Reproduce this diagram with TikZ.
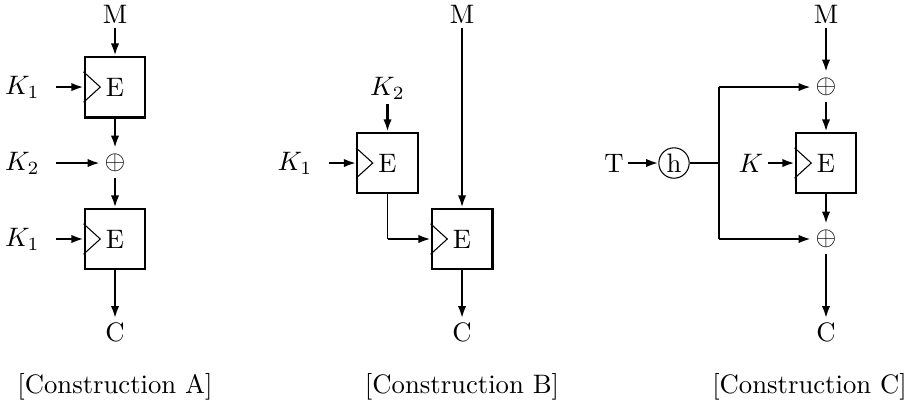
\documentclass[tikz,border=0pt]{standalone}
\usepackage{tikz}
\usetikzlibrary{arrows.meta,positioning,calc}
\newcommand{\clockmark}[1]{\draw[thin] ([yshift=2mm]#1.west) -- ++(2.2mm,-2mm) -- ++(-2.2mm,-2mm);}

\begin{document}
\begin{tikzpicture}[
  box/.style={draw,thick,minimum size=8mm,inner sep=0pt},
  lbl/.style={inner sep=1.5pt},
  keyin/.style={inner ysep=1.5pt,inner xsep=6pt},
  xsum/.style={minimum size=11pt,inner sep=0pt},
  hash/.style={draw,circle,minimum size=4mm,inner sep=0pt},
  arr/.style={-{Latex[length=1.6mm,width=1.1mm]},thick},
  link/.style={thin}
]
\useasboundingbox (-1.514,-3.278) rectangle (10.425,2.146);
\node[lbl] (mA) at (0,1.96) {M};
\node[box] (eA1) at (0,1) {E};
\node[keyin] (k1A) at (-1.22,1) {$K_1$};
\node[xsum] (xA) at (0,0) {$\oplus$};
\node[keyin] (k2A) at (-1.22,0) {$K_2$};
\node[box] (eA2) at (0,-1) {E};
\node[keyin] (k3A) at (-1.22,-1) {$K_1$};
\node[lbl] (cA) at (0,-2.23) {C};
\node (capA) at (0,-2.95) {[Construction A]};
\clockmark{eA1}
\clockmark{eA2}
\draw[arr] (mA)--(eA1);
\draw[arr] (k1A)--(eA1);
\draw[arr] (eA1)--(xA);
\draw[arr] (k2A)--(xA);
\draw[arr] (xA)--(eA2);
\draw[arr] (k3A)--(eA2);
\draw[arr] (eA2)--(cA);
\node[box] (eB1) at (3.587,0) {E};
\node[lbl] (k2B) at (3.587,0.98) {$K_2$};
\node[keyin] (k1B) at (2.369,0) {$K_1$};
\node[box] (eB2) at (4.568,-1) {E};
\node[lbl] (mB) at (4.568,1.96) {M};
\node[lbl] (cB) at (4.568,-2.23) {C};
\node (capB) at (4.568,-2.95) {[Construction B]};
\clockmark{eB1}
\clockmark{eB2}
\coordinate (bendB) at (eB1 |- eB2);
\draw[arr] (k2B)--(eB1);
\draw[arr] (k1B)--(eB1);
\draw[link] (eB1)--(bendB);
\draw[arr] (bendB)--(eB2);
\draw[arr] (mB)--(eB2);
\draw[arr] (eB2)--(cB);
\node[lbl] (mC) at (9.359,1.96) {M};
\node[xsum] (xC1) at (9.359,1) {$\oplus$};
\node[box] (eC) at (9.359,0) {E};
\node[xsum] (xC2) at (9.359,-1) {$\oplus$};
\node[lbl] (cC) at (9.359,-2.23) {C};
\node[lbl] (kC) at (8.372,0) {$K$};
\node[hash] (hC) at (7.358,0) {h};
\node[lbl] (tC) at (6.568,0) {T};
\node (capC) at (9.142,-2.95) {[Construction C]};
\clockmark{eC}
\coordinate (brM) at (7.95,0);
\coordinate (brT) at (brM |- xC1);
\coordinate (brB) at (brM |- xC2);
\draw[arr] (tC)--(hC);
\draw[link] (hC)--(brM);
\draw[link] (brT)--(brB);
\draw[arr] (brT)--(xC1);
\draw[arr] (brB)--(xC2);
\draw[arr] (mC)--(xC1);
\draw[arr] (xC1)--(eC);
\draw[arr] (kC)--(eC);
\draw[arr] (eC)--(xC2);
\draw[arr] (xC2)--(cC);
\end{tikzpicture}
\end{document}
